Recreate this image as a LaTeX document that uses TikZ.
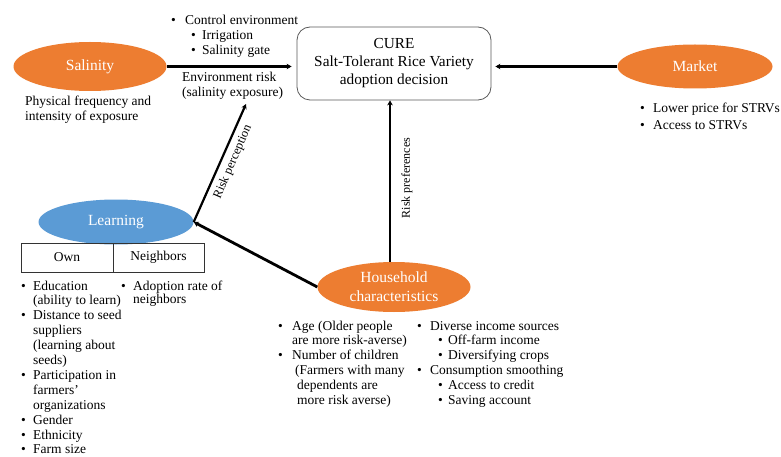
\documentclass[tikz,border=0pt]{standalone}
\usepackage{fontspec}
\setmainfont{Liberation Serif}
\usetikzlibrary{shapes.geometric,arrows.meta}
\definecolor{orng}{HTML}{ED7D31}
\definecolor{blu}{HTML}{5B9BD5}
\newcommand\bu[1]{\makebox[#1][l]{\textbullet}}
\newcommand\lst[1]{\begin{tabular}[t]{@{}l@{}}#1\end{tabular}}
\begin{document}
\begin{tikzpicture}[x=1pt,y=-1pt,
  ell/.style={ellipse, inner sep=0pt, text=white, font=\fontsize{15.5}{19}\selectfont, align=center},
  txt/.style={inner sep=0pt, anchor=base west, font=\fontsize{13.5}{15}\selectfont},
  cell/.style={draw=black!80, line width=0.8pt, inner sep=0pt, minimum height=29pt, font=\fontsize{13.5}{15}\selectfont},
  lnk/.style={line width=2.2pt, -{Stealth[length=5pt,width=5.5pt]}},
  lbl/.style={inner sep=0pt, font=\fontsize{12.5}{15}\selectfont}]
\useasboundingbox (0,0) rectangle (781,457);
\fill[white] (0,0) rectangle (781,457);

% main box
\node[draw=black!65, line width=0.8pt, rounded corners=13pt, minimum width=194pt, minimum height=73pt,
      align=center, font=\fontsize{15.3}{18}\selectfont, inner sep=0pt] (cure) at (394,63.5)
      {CURE\\Salt-Tolerant Rice Variety\\adoption decision};

% ellipses
\node[ell, fill=orng, minimum width=153pt, minimum height=49pt] (sal) at (90,66.5) {Salinity};
\node[ell, fill=orng, minimum width=155pt, minimum height=44pt] (mkt) at (695,66.5) {Market};
\node[ell, fill=blu, minimum width=155pt, minimum height=45pt] (lrn) at (116,222) {Learning};
\node[ell, fill=orng, minimum width=153pt, minimum height=50pt] (hh) at (394,287) {Household\\characteristics};

% texts
\node[txt] (ctrl) at (171,25) {\lst{\bu{14pt}Control environment\\
  \hspace*{20pt}\bu{11pt}Irrigation\\
  \hspace*{20pt}\bu{11pt}Salinity gate}};
\node[txt] (envrisk) at (182,82) {\lst{Environment risk\\(salinity exposure)}};
\node[txt] (phys) at (25,106) {\lst{Physical frequency and\\intensity of exposure}};
\node[txt, font=\fontsize{13.5}{17}\selectfont] (mktl) at (640,113) {\lst{\bu{13pt}Lower price for STRVs\\\bu{13pt}Access to STRVs}};

% table
\node[cell, minimum width=92pt] (owncell) at (67,257.5) {Own};
\node[cell, minimum width=91pt] (nbrcell) at (158.5,257.5) {Neighbors};

\node[txt, font=\fontsize{13.5}{14.9}\selectfont] (own) at (21,290) {\lst{\bu{12pt}Education\\
  \hspace*{12pt}(ability to learn)\\
  \bu{12pt}Distance to seed\\
  \hspace*{12pt}suppliers\\
  \hspace*{12pt}(learning about\\
  \hspace*{12pt}seeds)\\
  \bu{12pt}Participation in\\
  \hspace*{12pt}farmers’\\
  \hspace*{12pt}organizations\\
  \bu{12pt}Gender\\
  \bu{12pt}Ethnicity\\
  \bu{12pt}Farm size}};
\node[txt, font=\fontsize{13.5}{13.5}\selectfont] (nbr) at (121,290) {\lst{\bu{12pt}Adoption rate of\\\hspace*{12pt}neighbors}};

\node[txt, font=\fontsize{13.5}{14.8}\selectfont] (hhl) at (278,330) {\lst{\bu{14pt}Age (Older people\\
  \hspace*{14pt}are more risk-averse)\\
  \bu{14pt}Number of children\\
  \hspace*{17pt}(Farmers with many\\
  \hspace*{19pt}dependents are\\
  \hspace*{19pt}more risk averse)}};
\node[txt, font=\fontsize{13.5}{14.8}\selectfont] (hhr) at (417,330) {\lst{\bu{13pt}Diverse income sources\\
  \hspace*{21pt}\bu{10pt}Off-farm income\\
  \hspace*{21pt}\bu{10pt}Diversifying crops\\
  \bu{13pt}Consumption smoothing\\
  \hspace*{21pt}\bu{10pt}Access to credit\\
  \hspace*{21pt}\bu{10pt}Saving account}};

% connectors
\coordinate (rp) at (246,104);
\draw[lnk, shorten >=5pt] (sal.east) -- (sal.east -| cure.west);
\draw[lnk, shorten >=4pt] (mkt.west) -- (mkt.west -| cure.east);
\draw[lnk] ([xshift=-4pt]hh.north) -- ([xshift=-4pt]hh.north |- cure.south);
\draw[lnk, line width=2.8pt] (hh.west) -- (lrn.east);
\draw[lnk] (lrn.east) -- (rp);

\node[lbl, rotate=66.6] (rperc) at (233,162) {Risk perception};
\node[lbl, rotate=90, font=\fontsize{12}{14}\selectfont] (rpref) at (407,178) {Risk preferences};
\end{tikzpicture}
\end{document}
